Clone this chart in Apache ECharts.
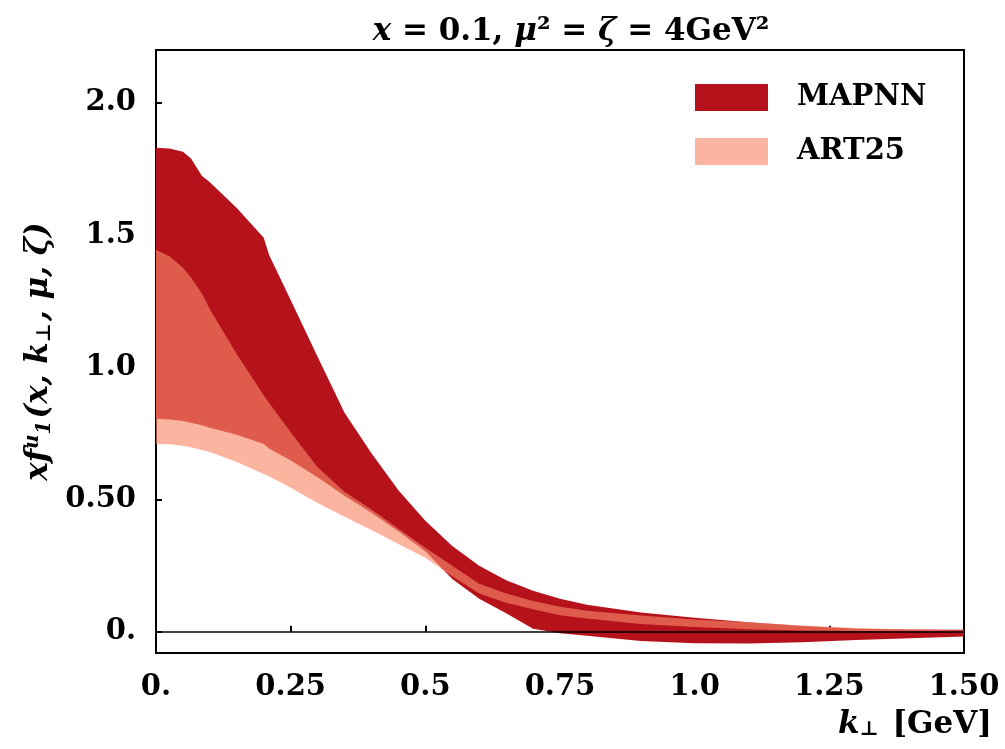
<!DOCTYPE html>
<html>
<head>
<meta charset="utf-8">
<script src="https://cdn.jsdelivr.net/npm/echarts@6/dist/echarts.min.js"></script>
<style>
  html, body { margin: 0; padding: 0; background: #fff; }
  #chart { width: 1005px; height: 749px; }
</style>
</head>
<body>
<div id="chart"></div>
<script>
// k_perp grid (GeV)
const kt = [0, 0.025, 0.05, 0.065, 0.085, 0.1, 0.15, 0.2, 0.21, 0.25, 0.3, 0.35, 0.4, 0.45, 0.5,
  0.55, 0.6, 0.65, 0.7, 0.75, 0.8, 0.9, 1.0, 1.1, 1.2, 1.3, 1.4, 1.5]

// MAPNN band
const mapnnUpper = [1.83, 1.828, 1.815, 1.79, 1.725, 1.7, 1.603, 1.49, 1.425, 1.255, 1.04, 0.828, 0.675, 0.535, 0.42,
  0.325, 0.25, 0.195, 0.155, 0.125, 0.102, 0.073, 0.053, 0.036, 0.022, 0.012, 0.009, 0.008]
const mapnnLower = [0.806, 0.803, 0.797, 0.791, 0.781, 0.772, 0.745, 0.71, 0.693, 0.648, 0.585, 0.515, 0.45, 0.38, 0.305,
  0.2, 0.125, 0.07, 0.012, -0.005, -0.015, -0.035, -0.043, -0.044, -0.039, -0.031, -0.024, -0.018]

// ART25 band
const artUpper = [1.445, 1.42, 1.377, 1.34, 1.28, 1.22, 1.05, 0.895, 0.865, 0.755, 0.622, 0.53, 0.463, 0.39, 0.318,
  0.25, 0.182, 0.145, 0.117, 0.095, 0.08, 0.062, 0.047, 0.036, 0.024, 0.015, 0.009, 0.005]
const artLower = [0.71, 0.709, 0.704, 0.698, 0.688, 0.68, 0.642, 0.597, 0.588, 0.545, 0.487, 0.435, 0.385, 0.332, 0.28,
  0.21, 0.145, 0.11, 0.085, 0.063, 0.05, 0.03, 0.018, 0.01, 0.005, 0.003, 0.002, 0.001]

const xTickLabels = ['0.', '0.25', '0.5', '0.75', '1.0', '1.25', '1.50']
const yTickValues = [0, 0.5, 1, 1.5, 2]
const yTickLabels = ['0.', '0.50', '1.0', '1.5', '2.0']

const FONT = 'DejaVu Serif'

const bandSeries = (name, upper, lower, color, extra) => Object.assign({
  name,
  type: 'custom',
  coordinateSystem: 'cartesian2d',
  clip: true,
  itemStyle: { color },
  data: [[kt[0], upper[0]]],
  renderItem: (params, api) => {
    const top = upper.map((y, i) => api.coord([kt[i], y]))
    const bottom = lower.map((y, i) => api.coord([kt[i], y])).reverse()
    return {
      type: 'polygon',
      shape: { points: top.concat(bottom) },
      style: { fill: color, stroke: null }
    }
  }
}, extra || {})

const chart = echarts.init(document.getElementById('chart'))

chart.setOption({
  animation: false,
  backgroundColor: '#fff',
  title: [
    {
      text: '{i|x} = 0.1, {i|μ}² = {i|ζ} = 4GeV²',
      left: 566,
      textAlign: 'center',
      top: 11,
      textStyle: {
        fontFamily: FONT,
        fontWeight: 'bold',
        fontSize: 31,
        color: '#000',
        rich: {
          i: { fontFamily: FONT, fontWeight: 'bold', fontStyle: 'italic', fontSize: 31, color: '#000' }
        }
      }
    },
    {
      text: '{i|k}{sub|⊥} [GeV]',
      right: 8,
      top: 704,
      textStyle: {
        fontFamily: FONT,
        fontWeight: 'bold',
        fontSize: 31,
        color: '#000',
        rich: {
          i: { fontFamily: FONT, fontWeight: 'bold', fontStyle: 'italic', fontSize: 31, color: '#000' },
          sub: { fontFamily: FONT, fontWeight: 'bold', fontSize: 20, color: '#000', verticalAlign: 'bottom', padding: [10, 3, 0, 0] }
        }
      }
    }
  ],
  legend: {
    orient: 'vertical',
    left: 690,
    top: 78,
    itemWidth: 73,
    itemHeight: 27,
    itemGap: 25,
    icon: 'rect',
    data: ['MAPNN', 'ART25'],
    textStyle: {
      fontFamily: FONT,
      fontWeight: 'bold',
      fontSize: 29,
      color: '#000',
      padding: [0, 0, 0, 24]
    }
  },
  grid: {
    left: 156,
    right: 41,
    top: 50,
    bottom: 96,
    containLabel: false,
    outerBoundsMode: 'none',
    show: true,
    borderColor: '#000',
    borderWidth: 2
  },
  xAxis: {
    type: 'value',
    min: 0,
    max: 1.5,
    interval: 0.25,
    axisLine: { show: false },
    splitLine: { show: false },
    axisTick: { show: true, inside: true, length: 6, lineStyle: { color: '#000', width: 2 } },
    axisLabel: {
      margin: 20,
      showMinLabel: true,
      showMaxLabel: true,
      fontFamily: FONT,
      fontWeight: 'bold',
      fontSize: 29,
      color: '#000',
      formatter: v => xTickLabels[Math.round(v / 0.25)]
    }
  },
  yAxis: {
    type: 'value',
    min: -0.08,
    max: 2.2,
    name: '{i|xf}{sup|u}{sub|1}{i|(x, k}{sub|⊥}{i|, μ, ζ)}',
    nameLocation: 'middle',
    nameGap: 88,
    nameRotate: 90,
    nameTextStyle: {
      fontFamily: FONT,
      fontWeight: 'bold',
      fontStyle: 'italic',
      fontSize: 31,
      color: '#000',
      rich: {
        i: { fontFamily: FONT, fontWeight: 'bold', fontStyle: 'italic', fontSize: 31, color: '#000' },
        sup: { fontFamily: FONT, fontWeight: 'bold', fontStyle: 'italic', fontSize: 20, color: '#000', verticalAlign: 'top', padding: [0, 0, 12, 0] },
        sub: { fontFamily: FONT, fontWeight: 'bold', fontSize: 20, color: '#000', verticalAlign: 'bottom', padding: [10, 2, 0, 0] }
      }
    },
    axisLine: { show: false },
    splitLine: { show: false },
    axisTick: { show: true, inside: true, length: 6, customValues: yTickValues, lineStyle: { color: '#000', width: 2 } },
    axisLabel: {
      margin: 20,
      customValues: yTickValues,
      fontFamily: FONT,
      fontWeight: 'bold',
      fontSize: 29,
      color: '#000',
      formatter: v => yTickLabels[yTickValues.indexOf(v)]
    }
  },
  series: [
    bandSeries('MAPNN', mapnnUpper, mapnnLower, '#b5121b'),
    bandSeries('ART25', artUpper, artLower, 'rgba(247,136,105,0.63)', {
      markLine: {
        silent: true,
        symbol: ['none', 'none'],
        label: { show: false },
        lineStyle: { color: '#000', width: 1.5, type: 'solid' },
        data: [{ yAxis: 0 }]
      }
    })
  ]
})
</script>
</body>
</html>
